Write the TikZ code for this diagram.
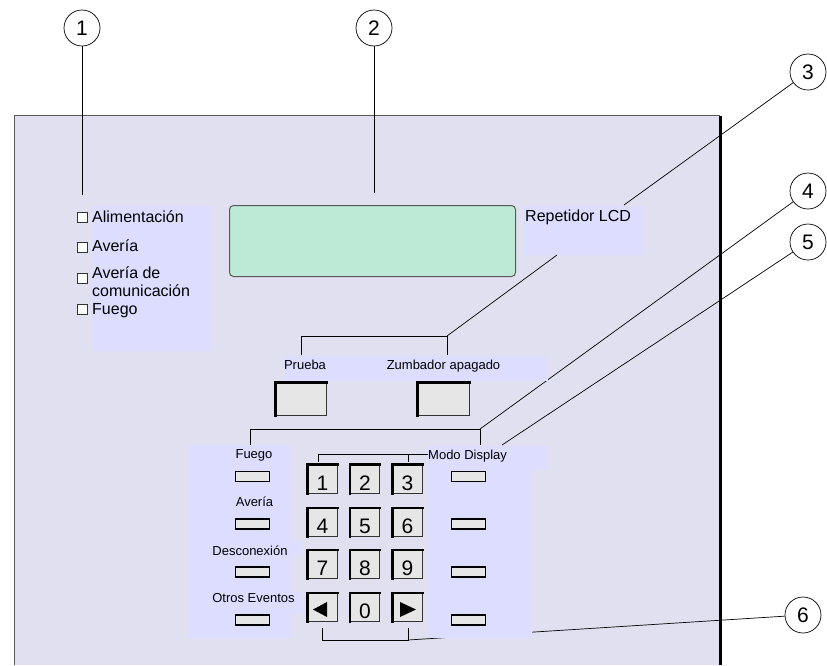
\documentclass[tikz,border=0pt]{standalone}
\usepackage{fontspec}
\setmainfont{Liberation Sans}
\definecolor{panel}{RGB}{224,224,240}
\definecolor{lav}{RGB}{221,221,255}
\definecolor{lcd}{RGB}{188,234,214}
\definecolor{btn}{RGB}{230,230,230}
\begin{document}
\begin{tikzpicture}[x=1pt,y=-1pt,
  callout/.style={circle,draw,line width=0.7pt,minimum size=36pt,inner sep=0pt,font=\fontsize{21}{21}\selectfont},
  lead/.style={line width=0.7pt},
  bigtxt/.style={font=\fontsize{16}{18}\selectfont,inner sep=0pt},
  smalltxt/.style={font=\fontsize{13}{15}\selectfont,inner sep=0pt},
  digit/.style={font=\fontsize{21}{21}\selectfont,inner sep=0pt},
  chk/.style={draw=black!80,fill=white,line width=0.7pt,minimum size=10pt,inner sep=0pt},
  keyb/.style={draw=black!80,line width=0.7pt,fill=btn,minimum width=29pt,minimum height=28pt,inner sep=0pt},
  keyedge/.style={line width=2.4pt,line cap=rect},
  bigbtn/.style={keyb,minimum width=50pt,minimum height=32pt},
  smbtn/.style={draw=black,line width=1.4pt,fill=btn,minimum width=34pt,minimum height=10pt,inner sep=0pt},
  lavbox/.style={fill=lav,draw=none,inner sep=0pt,anchor=north west}
]
\useasboundingbox (0,0) rectangle (827,665);
% panel
\fill[panel] (14,115) rectangle (720,665);
\draw[black!65,line width=0.8pt] (14,665) -- (14,115) -- (720,115);
\draw[line width=3pt] (720,116) -- (720,665);

% callouts
\node[callout] (c1) at (82,28) {1};
\node[callout] (c2) at (374,28) {2};
\node[callout] (c3) at (808,72) {3};
\node[callout] (c4) at (808,191) {4};
\node[callout] (c5) at (808,242) {5};
\node[callout] (c6) at (803,615) {6};
\coordinate (e1) at (82,195);
\coordinate (e2) at (374,193);
\coordinate (e3) at (624,205);
\coordinate (e4) at (480,429);
\coordinate (e5) at (502,445);
\coordinate (e6) at (408,640);
\draw[lead] (c1) -- (e1);
\draw[lead] (c2) -- (e2);
\draw[lead] (c3) -- (e3);
\draw[lead] (c4) -- (e4);
\draw[lead] (c5) -- (e5);
\draw[lead] (c6) -- (e6);

% LED box
\node[lavbox,minimum width=120pt,minimum height=145pt] (ledbox) at (92,206) {};
\node[chk] (b1) at (82,217) {};
\node[chk] (b2) at (82,247) {};
\node[chk] (b3) at (82,278) {};
\node[chk] (b4) at (82,309) {};
\node[bigtxt,anchor=base west] (t1) at (92,222) {Alimentación};
\node[bigtxt,anchor=base west] (t2) at (92,251) {Avería};
\node[bigtxt,anchor=base west] (t3) at (92,278.5) {Avería de};
\node[bigtxt,anchor=base west] (t3b) at (92,296) {comunicación};
\node[bigtxt,anchor=base west] (t4) at (92,314.5) {Fuego};

% LCD
\node[draw=black!65,line width=1pt,fill=lcd,rounded corners=4pt,minimum width=286pt,minimum height=71pt,anchor=north west,inner sep=0pt] (lcdbox) at (229,205) {};

% Repetidor
\node[lavbox,minimum width=120pt,minimum height=49pt] (repbox) at (524,206) {};
\node[bigtxt,anchor=base west] (rep) at (525,221.5) {Repetidor LCD};
\coordinate (r1) at (557,255);
\coordinate (r2) at (447,336);
\coordinate (r3) at (301,336);
\draw[lead] (r1) -- (r2);
\draw[lead] (301,355) -- (r3) -- (r2) -- (447,355);

% Prueba / Zumbador
\node[lavbox,minimum width=264pt,minimum height=25pt] (pzbox) at (284,356) {};
\node[smalltxt,anchor=base] (pru) at (305,369.5) {Prueba};
\node[smalltxt,anchor=base] (zum) at (443.5,369.5) {Zumbador apagado};
\node[bigbtn] (bp) at (301,399) {};
\node[bigbtn,minimum width=51pt] (bz) at (443.5,399) {};

% bracket 4
\draw[lead] (250,445) -- (250,429) -- (e4) -- (480,445);

% left keypad box
\node[lavbox,minimum width=104pt,minimum height=193pt] (lbox) at (188,445) {};
\node[lavbox,minimum width=10pt,minimum height=12pt] (lbox2) at (291,542) {};
\node[lavbox,minimum width=10pt,minimum height=21pt] (lbox3) at (291,592) {};
% right keypad box
\node[lavbox,minimum width=120pt,minimum height=24pt] (mbox) at (428,446) {};
\node[lavbox,minimum width=104pt,minimum height=169pt] (rbox) at (428,469) {};

% labels
\node[smalltxt,anchor=base] (lf) at (254,458.6) {Fuego};
\node[smalltxt,anchor=base] (la) at (254.5,506.6) {Avería};
\node[smalltxt,anchor=base] (ld) at (250,555) {Desconexión};
\node[smalltxt,anchor=base] (lo) at (253.5,602.6) {Otros Eventos};
\node[smalltxt,anchor=base west] (md) at (428,459.3) {Modo Display};

% Modo display bracket
\draw[lead] (318,462) -- (318,454) -- (md.west |- 0,454);
\draw[lead] (408,454) -- (408,462);

% small buttons
\foreach \n/\yy in {1/476.5,2/524,3/572,4/620}{
  \node[smbtn] (sl\n) at (252.5,\yy) {};
  \node[smbtn] (sr\n) at (468.5,\yy) {};
}

% keypad
\foreach \d/\cx/\cy in {1/322.5/479,2/365/479,3/407.5/479,4/322.5/522.5,5/365/522.5,6/407.5/522.5,7/322.5/564.5,8/365/564.5,9/407.5/564.5,0/365/607.5}{
  \node[keyb] (k\d) at (\cx,\cy) {};
  \draw[keyedge] (k\d.south west) -- (k\d.north west) -- (k\d.north east);
  \node[digit,anchor=base] (d\d) at ([yshift=3pt]k\d.south) {\d};
}
\node[keyb] (kl) at (322.5,607.5) {};
\node[keyb] (kr) at (407.5,607.5) {};
\foreach \k in {kl,kr,bp,bz}{
  \draw[keyedge] (\k.south west) -- (\k.north west) -- (\k.north east);
}
\fill (313,609.5) -- (327,602) -- (327,617) -- cycle;
\fill (400,602) -- (400,617) -- (416,609.5) -- cycle;

% bottom bracket
\draw[lead] (322,628) -- (322,640) -- (e6) -- (408,628);
\end{tikzpicture}
\end{document}
